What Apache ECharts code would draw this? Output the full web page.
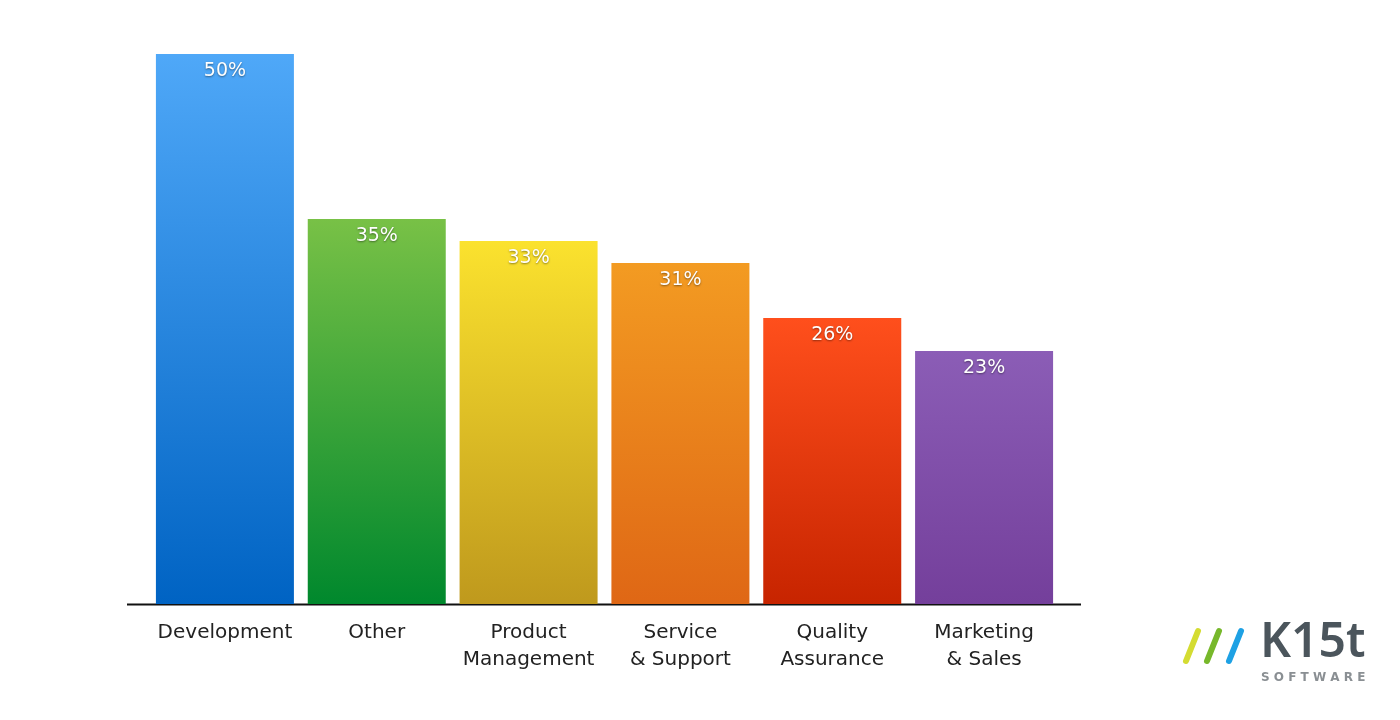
<!DOCTYPE html>
<html><head><meta charset="utf-8">
<script src="https://cdn.jsdelivr.net/npm/echarts@6/dist/echarts.min.js"></script>
<style>html,body{margin:0;padding:0;background:#fff}#c{width:1400px;height:720px}</style>
</head><body><div id="c"></div>
<script>
const categories = ['Development', 'Other', 'Product\nManagement', 'Service\n& Support', 'Quality\nAssurance', 'Marketing\n& Sales'];
const values = [50, 35, 33, 31, 26, 23];
const topColors = ['#4fa8f8', '#78c146', '#fbe22e', '#f39b22', '#ff4f1c', '#8b5db6'];
const bottomColors = ['#0063c3', '#00882d', '#bf991d', '#df6715', '#c72400', '#743f9b'];

const chart = echarts.init(document.getElementById('c'), null, {renderer: 'canvas'});
const data = values.map((v, i) => ({
  value: v,
  itemStyle: {
    color: new echarts.graphic.LinearGradient(0, 0, 0, 1, [
      {offset: 0, color: topColors[i]}, {offset: 1, color: bottomColors[i]}
    ])
  }
}));
chart.setOption({
  animation: false,
  grid: {left: 149, right: 340, top: 54, bottom: 116},
  xAxis: {
    type: 'category', data: categories,
    axisLine: {show: false}, axisTick: {show: false},
    axisLabel: {color: '#222', fontSize: 20, fontFamily: 'DejaVu Sans', lineHeight: 27, margin: 15, interval: 0}
  },
  yAxis: {type: 'value', min: 0, max: 50, show: false, splitLine: {show: false}},
  series: [{
    type: 'bar', data: data, barWidth: 138,
    label: {
      show: true, position: 'insideTop', distance: 8,
      formatter: '{c}%', color: '#fff', fontSize: 19, fontFamily: 'DejaVu Sans',
      textShadowColor: 'rgba(0,0,0,0.45)', textShadowBlur: 2, textShadowOffsetY: 1
    }
  }],
  graphic: [
    {type: 'line', shape: {x1: 127, y1: 604.5, x2: 1081, y2: 604.5}, style: {stroke: '#111', lineWidth: 2}},
    {type: 'line', shape: {x1: 1186, y1: 661, x2: 1198, y2: 631}, style: {stroke: '#d4dc32', lineWidth: 6, lineCap: 'round'}},
    {type: 'line', shape: {x1: 1207, y1: 661, x2: 1219, y2: 631}, style: {stroke: '#77b82b', lineWidth: 6, lineCap: 'round'}},
    {type: 'line', shape: {x1: 1229, y1: 661, x2: 1241, y2: 631}, style: {stroke: '#1ea1e4', lineWidth: 6, lineCap: 'round'}},
    {type: 'text', left: 1260, top: 619, style: {text: 'K15t', fill: '#4b555c', font: '600 48px "Noto Sans"'}},
    {type: 'text', left: 1261, top: 672, style: {text: 'S O F T W A R E', fill: '#8a8f93', font: '600 12px "DejaVu Sans"'}}
  ]
});
</script></body></html>
